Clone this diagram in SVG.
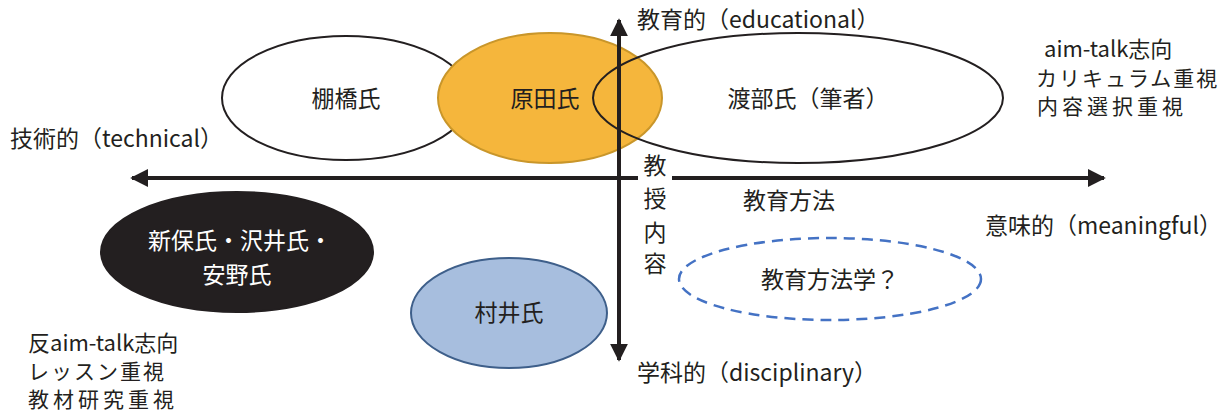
<svg xmlns="http://www.w3.org/2000/svg" width="1231" height="416" viewBox="0 0 1231 416">
<style>
text{font-family:"Noto Sans CJK JP","Noto Sans",sans-serif;font-size:23px;fill:#231f20}
.c{text-anchor:middle}
.w{fill:#ffffff}
.a{font-size:22px}
.s{font-size:21px;letter-spacing:2px}
.s4{font-size:21px;letter-spacing:4px}
.ax{stroke:#231f20;stroke-width:4;fill:none}
</style>
<defs>
<marker id="ah" viewBox="0 0 10 10" refX="9" refY="5" markerWidth="4.5" markerHeight="4.5" orient="auto" markerUnits="strokeWidth">
<path d="M0,0 L10,5 L0,10 z" fill="#231f20"/>
</marker>
</defs>
<rect width="1231" height="416" fill="#ffffff"/>
<g id="tanahashi">
<ellipse cx="346" cy="98" rx="124" ry="62" fill="#ffffff" stroke="#231f20" stroke-width="2"/>
<text class="c" x="346" y="107">棚橋氏</text>
</g>
<g id="harada">
<ellipse cx="550" cy="98" rx="112" ry="65" fill="#F5B63C" stroke="#C9962A" stroke-width="2"/>
<text class="c" x="545" y="107">原田氏</text>
</g>
<g id="watanabe">
<ellipse cx="798" cy="98" rx="205" ry="65" fill="none" stroke="#231f20" stroke-width="2"/>
<text class="c" x="808" y="107">渡部氏（筆者）</text>
</g>
<g id="shinbo">
<ellipse cx="237" cy="252" rx="136" ry="60" fill="#231f20" stroke="#231f20" stroke-width="2"/>
<text class="c w" x="240" y="249">新保氏・沢井氏・</text>
<text class="c w" x="237" y="283">安野氏</text>
</g>
<g id="murai">
<ellipse cx="509" cy="313" rx="98" ry="55" fill="#A7BEDE" stroke="#3E5F8A" stroke-width="2"/>
<text class="c" x="509" y="321">村井氏</text>
</g>
<g id="houhougaku">
<ellipse cx="830" cy="279" rx="151" ry="41" fill="none" stroke="#4472C4" stroke-width="2.5" stroke-dasharray="11,7"/>
<text class="c" x="830" y="288">教育方法学？</text>
</g>
<g id="connectors">
<line class="ax" x1="638" y1="178" x2="132" y2="178" marker-end="url(#ah)"/>
<line class="ax" x1="672" y1="178" x2="1104" y2="178" marker-end="url(#ah)"/>
<line class="ax" x1="619" y1="178" x2="619" y2="20" marker-end="url(#ah)"/>
<line class="ax" x1="619" y1="178" x2="619" y2="360" marker-end="url(#ah)"/>
</g>
<g id="labels">
<text x="637" y="28">教育的（educational）</text>
<text class="a" x="1044" y="57">aim-talk志向</text>
<text class="s" x="1036" y="86">カリキュラム重視</text>
<text class="s4" x="1037" y="114">内容選択重視</text>
<text x="10" y="147">技術的（technical）</text>
<text x="985" y="234">意味的（meaningful）</text>
<text x="637" y="381">学科的（disciplinary）</text>
<text class="c" x="655" y="174">教</text>
<text class="c" x="655" y="207">授</text>
<text class="c" x="655" y="241">内</text>
<text class="c" x="655" y="272">容</text>
<text x="743" y="209">教育方法</text>
<text class="a" x="28" y="351">反aim-talk志向</text>
<text class="s" x="28" y="379">レッスン重視</text>
<text class="s4" x="28" y="407">教材研究重視</text>
</g>
</svg>
